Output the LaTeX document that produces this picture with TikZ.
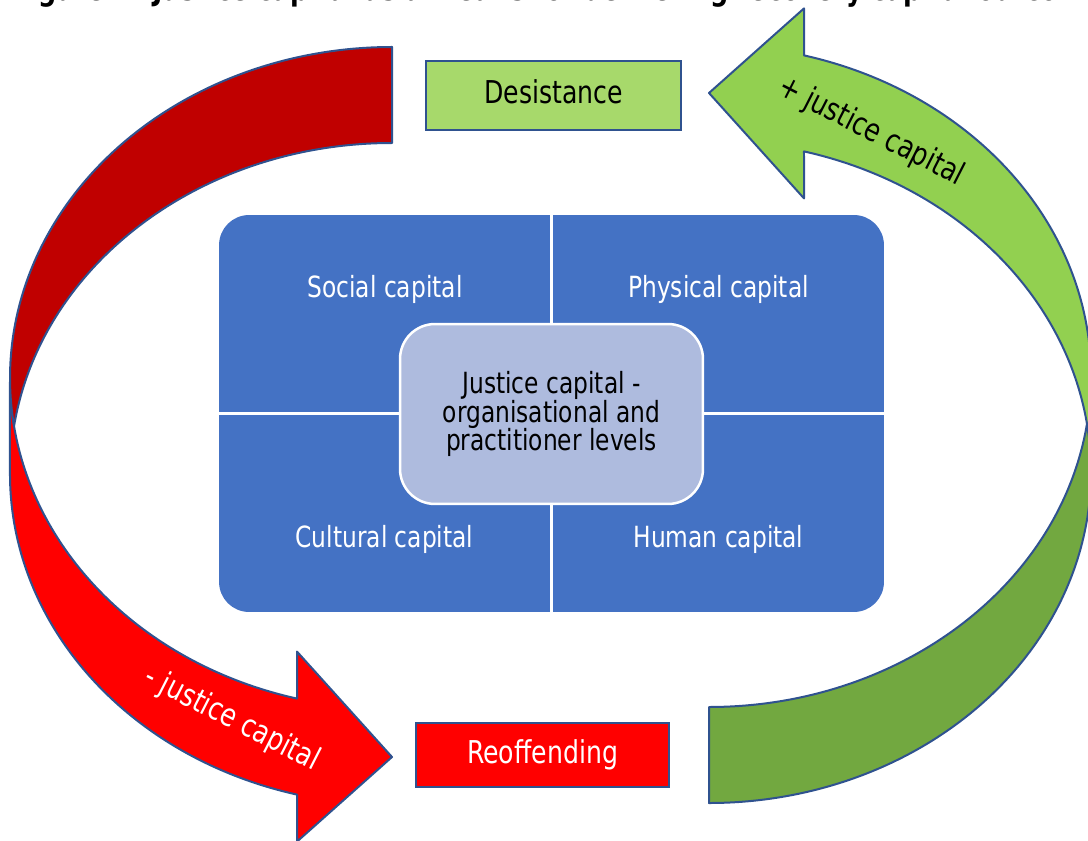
\documentclass[tikz,border=0pt]{standalone}
\usepackage{fontspec}
\setmainfont{DejaVu Sans}[FakeStretch=0.8]

\definecolor{capblue}{RGB}{68,114,196}
\definecolor{coreblue}{RGB}{174,187,222}
\definecolor{edgeblue}{RGB}{47,82,143}
\definecolor{redfront}{RGB}{255,0,0}
\definecolor{redback}{RGB}{192,0,0}
\definecolor{greenfront}{RGB}{146,208,80}
\definecolor{greenback}{RGB}{114,168,64}
\definecolor{boxgreen}{RGB}{167,217,107}

\begin{document}
\begin{tikzpicture}[x=0.02cm, y=-0.02cm,
    txt/.style={font=\fontsize{16.6}{16.4}\selectfont},
    boxtxt/.style={txt, text height=13pt, text depth=4pt},
    bigtxt/.style={font=\fontsize{17.9}{18}\selectfont, text height=13.5pt, text depth=4pt},
    band/.style={draw=edgeblue, line width=0.04cm, line join=round},
    outcome/.style={bigtxt, draw=edgeblue, line width=0.05cm, inner sep=0pt},
    quad/.style={boxtxt, text=white},
    turn/.style={bigtxt, rotate=-27}]
  \useasboundingbox (0,0) rectangle (1088,841);
  \clip (0,0) rectangle (1088,841);

  % red arrow, down to reoffending
  \filldraw[band, fill=redfront] (10,378)
    arc[start angle=180, end angle=104.4, x radius=382, y radius=331]
    -- (297,651.6) -- (392,757) -- (297,841.6) -- (297,794.6)
    arc[start angle=104.4, end angle=180, x radius=382, y radius=331] -- cycle;
  \filldraw[band, fill=redback] (392,143)
    arc[start angle=270, end angle=188.34, x radius=382, y radius=331]
    arc[start angle=171.66, end angle=270, x radius=382, y radius=331] -- cycle;

  % green arrow, the same shape turned round
  \begin{scope}[rotate around={180:(550.5,425)}]
    \filldraw[band, fill=greenfront] (10,378)
      arc[start angle=180, end angle=104.4, x radius=382, y radius=331]
      -- (297,651.6) -- (392,757) -- (297,841.6) -- (297,794.6)
      arc[start angle=104.4, end angle=180, x radius=382, y radius=331] -- cycle;
    \filldraw[band, fill=greenback] (392,143)
      arc[start angle=270, end angle=188.34, x radius=382, y radius=331]
      arc[start angle=171.66, end angle=270, x radius=382, y radius=331] -- cycle;
  \end{scope}

  \node[turn, text=white] (minus) at (232,720) {- justice capital};
  \node[turn] (plus) at (871,132) {+ justice capital};

  \node[outcome, fill=boxgreen, minimum width=5.1cm, minimum height=1.38cm]
    (desist) at (553.5,95.5) {Desistance};
  \node[outcome, fill=redfront, text=white, minimum width=5.06cm, minimum height=1.28cm]
    (reoff) at (542.5,755) {Reoffending};

  % the four capitals
  \node[fill=capblue, rounded corners=0.6cm, minimum width=13.3cm, minimum height=7.94cm,
    inner sep=0pt] (frame) at (551.5,413.5) {};
  \draw[white, line width=0.05cm] (frame.north) -- (frame.south);
  \draw[white, line width=0.05cm] (frame.west) -- (frame.east);
  \node[quad] (social) at (385,290) {Social capital};
  \node[quad] (physical) at (718.5,290) {Physical capital};
  \node[quad] (cultural) at (384.5,540) {Cultural capital};
  \node[quad] (human) at (718.5,540) {Human capital};

  \node[txt, fill=coreblue, draw=white, line width=0.05cm, rounded corners=0.7cm,
    minimum width=6.06cm, minimum height=3.6cm, align=center, inner sep=0pt]
    (core) at (551.5,414) {Justice capital -\\organisational and\\practitioner levels};

  \node[anchor=base west, fill=white, inner sep=0pt, text depth=0pt,
    font=\fontsize{18.1}{19}\selectfont\bfseries] (title) at (12,1)
    {Figure 1: Justice capital as a means for delivering recovery capital outcomes};
\end{tikzpicture}
\end{document}
